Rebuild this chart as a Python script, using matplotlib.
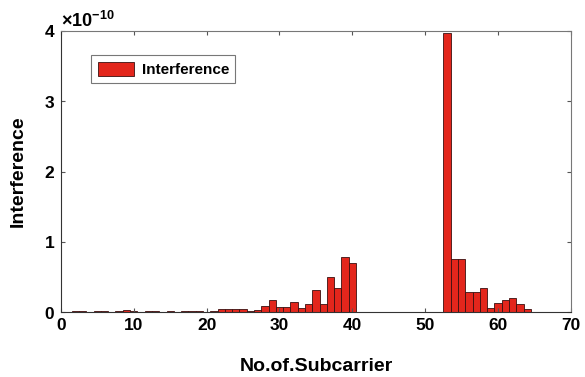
import matplotlib
matplotlib.use("Agg")
import matplotlib.pyplot as plt
import numpy as np
from matplotlib.ticker import ScalarFormatter

plt.rcParams['font.family'] = ['Liberation Sans', 'DejaVu Sans']
plt.rcParams['mathtext.fontset'] = 'custom'
plt.rcParams['mathtext.rm'] = 'Liberation Sans:bold'
plt.rcParams['mathtext.default'] = 'rm'

subcarriers = list(range(1, 65))
interference_e10 = [
    0.005, 0.01, 0.015, 0.005, 0.01, 0.015, 0.005, 0.01, 0.03, 0.01,
    0.005, 0.015, 0.01, 0.005, 0.01, 0.005, 0.01, 0.02, 0.01, 0.005,
    0.01, 0.04, 0.05, 0.04, 0.04, 0.01, 0.03, 0.086, 0.18, 0.08,
    0.08, 0.15, 0.06, 0.11, 0.32, 0.11, 0.50, 0.34, 0.79, 0.70,
    0, 0, 0, 0, 0, 0, 0, 0, 0, 0,
    0, 0, 3.97, 0.75, 0.76, 0.29, 0.28, 0.34, 0.066, 0.13,
    0.17, 0.20, 0.11, 0.05,
]
interference = np.array(interference_e10) * 1e-10

fig = plt.figure(figsize=(5.85, 3.77), dpi=100)
ax = fig.add_axes([0.104, 0.172, 0.872, 0.746])
ax.bar(subcarriers, interference, width=1.0, color='#E3261C',
       edgecolor='#3a1010', linewidth=0.6, label='Interference')
ax.set_xlim(0, 70)
ax.set_ylim(0, 4e-10)
ax.set_xticks(range(0, 71, 10))
ax.set_yticks([0, 1e-10, 2e-10, 3e-10, 4e-10])
fmt = ScalarFormatter(useMathText=True)
fmt.set_powerlimits((0, 0))
ax.yaxis.set_major_formatter(fmt)
ax.yaxis.get_offset_text().set_fontsize(13)
ax.yaxis.get_offset_text().set_fontweight('bold')
ax.tick_params(direction='in', top=True, right=True, labelsize=12.5, length=3,
               color='#555555', pad=4)
for lab in ax.get_xticklabels() + ax.get_yticklabels():
    lab.set_fontweight('bold')
for s in ax.spines.values():
    s.set_color('#777777')
    s.set_linewidth(0.8)
ax.spines['left'].set_color('#333333')
ax.spines['bottom'].set_color('#333333')
ax.set_xlabel('No.of.Subcarrier', fontsize=14, fontweight='bold', labelpad=18)
ax.set_ylabel('Interference', fontsize=14, fontweight='bold', labelpad=12)
leg = ax.legend(loc='upper left', bbox_to_anchor=(0.045, 0.94),
                prop={'size': 11, 'weight': 'bold'},
                fancybox=False, edgecolor='#555555', handlelength=2.4,
                handleheight=1.1, borderpad=0.4, handletextpad=0.5)
leg.get_frame().set_linewidth(0.8)
fig.savefig('out.png', dpi=100)
